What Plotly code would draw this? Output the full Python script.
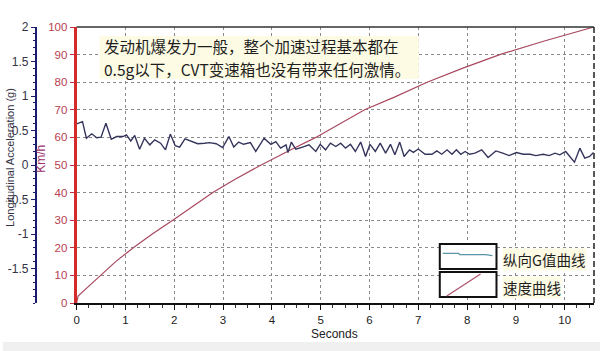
import plotly.graph_objects as go

# ---- data ----
accel_t = [0, 0.12, 0.2, 0.31, 0.41, 0.5, 0.6, 0.71, 0.82, 0.95, 1.02, 1.11, 1.19, 1.29, 1.39, 1.5,
           1.6, 1.72, 1.82, 1.92, 2.02, 2.11, 2.22, 2.35, 2.48, 2.62, 2.72, 2.86, 2.99, 3.12, 3.22,
           3.32, 3.42, 3.56, 3.67, 3.84, 3.98, 4.08, 4.18, 4.29, 4.33, 4.40, 4.49, 4.63, 4.76, 4.90,
           4.99, 5.10, 5.2, 5.31, 5.41, 5.51, 5.61, 5.71, 5.82, 5.92, 6.01, 6.12, 6.22, 6.33, 6.43,
           6.52, 6.62, 6.71, 6.82, 6.9, 7.0, 7.14, 7.28, 7.38, 7.48, 7.59, 7.69, 7.78, 7.87, 7.96,
           8.05, 8.16, 8.3, 8.43, 8.59, 8.73, 8.86, 9.01, 9.15, 9.29, 9.41, 9.56, 9.68, 9.80, 9.90,
           10.02, 10.10, 10.2, 10.31, 10.41, 10.51, 10.59]
accel_g = [0.596, 0.628, 0.388, 0.452, 0.396, 0.404, 0.604, 0.372, 0.412, 0.412, 0.436, 0.348, 0.428,
           0.228, 0.388, 0.292, 0.364, 0.316, 0.22, 0.448, 0.28, 0.26, 0.38, 0.348, 0.308, 0.316,
           0.324, 0.308, 0.252, 0.412, 0.26, 0.332, 0.30, 0.324, 0.196, 0.388, 0.30, 0.34, 0.244,
           0.292, 0.18, 0.332, 0.228, 0.26, 0.292, 0.196, 0.30, 0.22, 0.316, 0.268, 0.316, 0.244,
           0.30, 0.196, 0.332, 0.124, 0.30, 0.196, 0.316, 0.172, 0.30, 0.148, 0.332, 0.124, 0.22,
           0.184, 0.232, 0.156, 0.156, 0.204, 0.156, 0.22, 0.156, 0.22, 0.156, 0.196, 0.156, 0.172,
           0.22, 0.108, 0.204, 0.172, 0.136, 0.18, 0.156, 0.156, 0.136, 0.156, 0.136, 0.172, 0.148,
           0.196, 0.124, 0.04, 0.244, 0.10, 0.124, 0.18]

speed_t = [0, 0.03, 0.15, 0.48, 0.8, 1.16, 1.55, 1.97, 2.38, 2.79, 3.22, 3.78, 4.39, 4.9, 5.9, 6.5,
           7.18, 7.9, 8.67, 9.6, 10.6]
speed_kmh = [0, 2.5, 4.5, 10, 15, 20, 25, 30, 35, 40, 44.6, 50, 55.5, 60, 70, 74.5, 80, 85, 90, 95, 100]

g_tickvals = [-1.5, -1, -0.5, 0, 0.5, 1, 1.5, 2]
g_ticktext = ["-1.5", "-1", "-0.5", "0", "0.5", "1", "1.5", "2"]

note_line1 = "发动机爆发力一般，整个加速过程基本都在"
note_line2 = "0.5g以下，CVT变速箱也没有带来任何激情。"
legend_labels = ["纵向G值曲线", "速度曲线"]

# ---- geometry helpers (pixel -> paper) ----
W, H = 600, 351
ML, MR, MT, MB = 0, 6, 27, 48
PW = W - ML - MR
PH = H - MT - MB


def px(x):
    return (x - ML) / PW


def py(y):
    return (H - MB - y) / PH


CJK = "Noto Sans CJK SC"
SANS = "Liberation Sans, Arial"

fig = go.Figure()
fig.add_trace(go.Scatter(x=speed_t, y=speed_kmh, mode="lines", yaxis="y",
                         line=dict(color="#a8485f", width=1.2), showlegend=False))
fig.add_trace(go.Scatter(x=accel_t, y=accel_g, mode="lines", yaxis="y2",
                         line=dict(color="#35355c", width=1.4), showlegend=False))

fig.update_layout(
    width=W, height=H,
    margin=dict(l=ML, r=MR, t=MT, b=MB),
    paper_bgcolor="white", plot_bgcolor="white",
    xaxis=dict(domain=[px(74), 1], range=[0, 10.6], dtick=1, tick0=0,
               showgrid=True, gridcolor="#8a8a8a", griddash="3px,3px", gridwidth=1,
               showline=True, linecolor="#111", linewidth=2,
               ticks="outside", ticklen=5, tickcolor="#111", tickwidth=1,
               minor=dict(dtick=0.25, ticks="outside", ticklen=3, tickcolor="#333", showgrid=False),
               tickfont=dict(family=SANS, size=11.5, color="#222"), zeroline=False),
    yaxis=dict(range=[0, 100], dtick=10, tick0=0,
               showgrid=True, gridcolor="#8a8a8a", griddash="3px,3px", gridwidth=1,
               showline=True, linecolor="#d42a2a", linewidth=3,
               ticks="outside", ticklen=4, tickcolor="#c03040",
               tickfont=dict(family=SANS, size=11.5, color="#b8404f"), zeroline=False),
    yaxis2=dict(range=[-2, 2], overlaying="y", anchor="free", position=px(33), side="left",
                tickvals=g_tickvals, ticktext=g_ticktext, showgrid=False, zeroline=False,
                showline=True, linecolor="#1c1c6e", linewidth=2,
                ticks="outside", ticklen=4, tickcolor="#1c1c6e",
                minor=dict(dtick=0.1, ticks="outside", ticklen=2, tickcolor="#1c1c6e"),
                tickfont=dict(family=SANS, size=12, color="#333345")),
)

shapes = []
# bottom light gray band
shapes.append(dict(type="rect", xref="paper", yref="paper", x0=px(0), x1=px(600), y0=py(351), y1=py(342),
                   fillcolor="#f0f0f0", line=dict(width=0), layer="below"))
# yellow background behind the note
shapes.append(dict(type="rect", xref="paper", yref="paper", x0=px(97), x1=px(418), y0=py(79), y1=py(36),
                   fillcolor="#fdfbe4", line=dict(width=0), layer="above"))
# top border
shapes.append(dict(type="line", xref="paper", yref="paper", x0=px(74), x1=1, y0=1, y1=1,
                   line=dict(color="#333", width=1.5)))
# right dashed border
shapes.append(dict(type="line", xref="paper", yref="paper", x0=1, x1=1, y0=0, y1=1,
                   line=dict(color="#222", width=1.5, dash="6px,3px")))
# legend boxes
for (y0, y1) in [(269, 244), (297, 272)]:
    shapes.append(dict(type="rect", xref="paper", yref="paper", x0=px(439), x1=px(496), y0=py(y0), y1=py(y1),
                       fillcolor="white", line=dict(color="#111", width=2)))
path1 = "M {:.4f},{:.4f} L {:.4f},{:.4f} L {:.4f},{:.4f} L {:.4f},{:.4f} L {:.4f},{:.4f}".format(
    px(442), py(253.3), px(458), py(253.3), px(459), py(254.7), px(485), py(254.7), px(492), py(255.7))
shapes.append(dict(type="path", xref="paper", yref="paper", path=path1,
                   line=dict(color="#5b95a8", width=1.3)))
shapes.append(dict(type="line", xref="paper", yref="paper", x0=px(446), y0=py(296), x1=px(480), y1=py(274),
                   line=dict(color="#b0506a", width=1.2)))
fig.update_layout(shapes=shapes)

ann = []
ann.append(dict(text=note_line1, xref="paper", yref="paper", x=px(99), y=py(46.5),
                xanchor="left", yanchor="middle", align="left",
                showarrow=False, font=dict(family=CJK, size=15.5, color="#1e1e1e")))
ann.append(dict(text=note_line2, xref="paper", yref="paper", x=px(99), y=py(69),
                xanchor="left", yanchor="middle", align="left",
                showarrow=False, font=dict(family=CJK, size=15.5, color="#1e1e1e")))
for lab, yy in zip(legend_labels, [259, 287]):
    ann.append(dict(text=lab, xref="paper", yref="paper", x=px(502), y=py(yy), xanchor="left", yanchor="middle",
                    showarrow=False, font=dict(family=CJK, size=14.5, color="#1e1e1e"), bgcolor="#fdfbe4",
                    borderpad=0))
ann.append(dict(text="Longitudinal Acceleration (g)", xref="paper", yref="paper", x=px(7), y=py(157),
                xanchor="center", yanchor="middle", textangle=-90, showarrow=False,
                font=dict(family=SANS, size=11, color="#333345")))
ann.append(dict(text="Km/h", xref="paper", yref="paper", x=px(38), y=py(159),
                xanchor="center", yanchor="middle", textangle=-90, showarrow=False,
                font=dict(family=SANS, size=12, color="#9a3068")))
ann.append(dict(text="Seconds", xref="paper", yref="paper", x=px(333), y=py(334),
                xanchor="center", yanchor="middle", showarrow=False,
                font=dict(family=SANS, size=12, color="#222")))
fig.update_layout(annotations=ann)

fig.write_html("out.html")
